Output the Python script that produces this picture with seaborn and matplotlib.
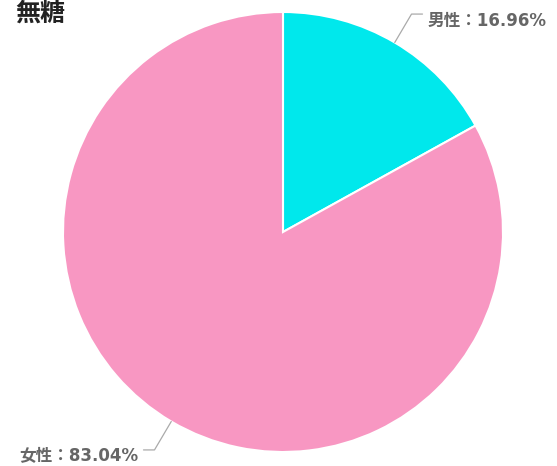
import numpy as np
import matplotlib.pyplot as plt
import seaborn as sns

# données
title = '無糖'
labels = ['男性', '女性']
shares = [16.96, 83.04]
colors = ['#00E8EC', '#F897C2']

sns.set_theme(style='white')
plt.rcParams['font.family'] = ['Noto Sans CJK JP', 'DejaVu Sans']

fig = plt.figure(figsize=(5.57, 4.66), dpi=100)
W, H = 557, 466
cx, cy, R = 283, 232, 220
ax = fig.add_axes([(cx - R) / W, (H - cy - R) / H, 2 * R / W, 2 * R / H])

wedges, _ = ax.pie(shares, colors=colors, startangle=90, counterclock=False,
                   wedgeprops=dict(edgecolor='white', linewidth=1.5))
ax.set_xlim(-1, 1)
ax.set_ylim(-1, 1)
ax.axis('off')

# étiquettes avec traits de rappel
for w, lab, val in zip(wedges, labels, shares):
    ang = np.deg2rad((w.theta1 + w.theta2) / 2)
    x0, y0 = np.cos(ang), np.sin(ang)
    x1, y1 = 1.15 * x0, 1.15 * y0
    side = 1 if x0 > 0 else -1
    x2 = x1 + side * 0.05
    ax.plot([x0, x1, x2], [y0, y1, y1], color='#AAAAAA', lw=0.9, clip_on=False)
    ax.text(x2 + side * 0.025, y1 - 0.03, f'{lab}：{val:.2f}%',
            ha='left' if side > 0 else 'right', va='center',
            fontsize=12, color='#666666', fontweight='bold', clip_on=False,
            family=['DejaVu Sans', 'Noto Sans CJK JP'])

fig.text(15 / W, 1 - 14 / H, title, fontsize=18, fontweight='bold',
         color='#222222', ha='left', va='center')

fig.savefig('out.png', dpi=100)
